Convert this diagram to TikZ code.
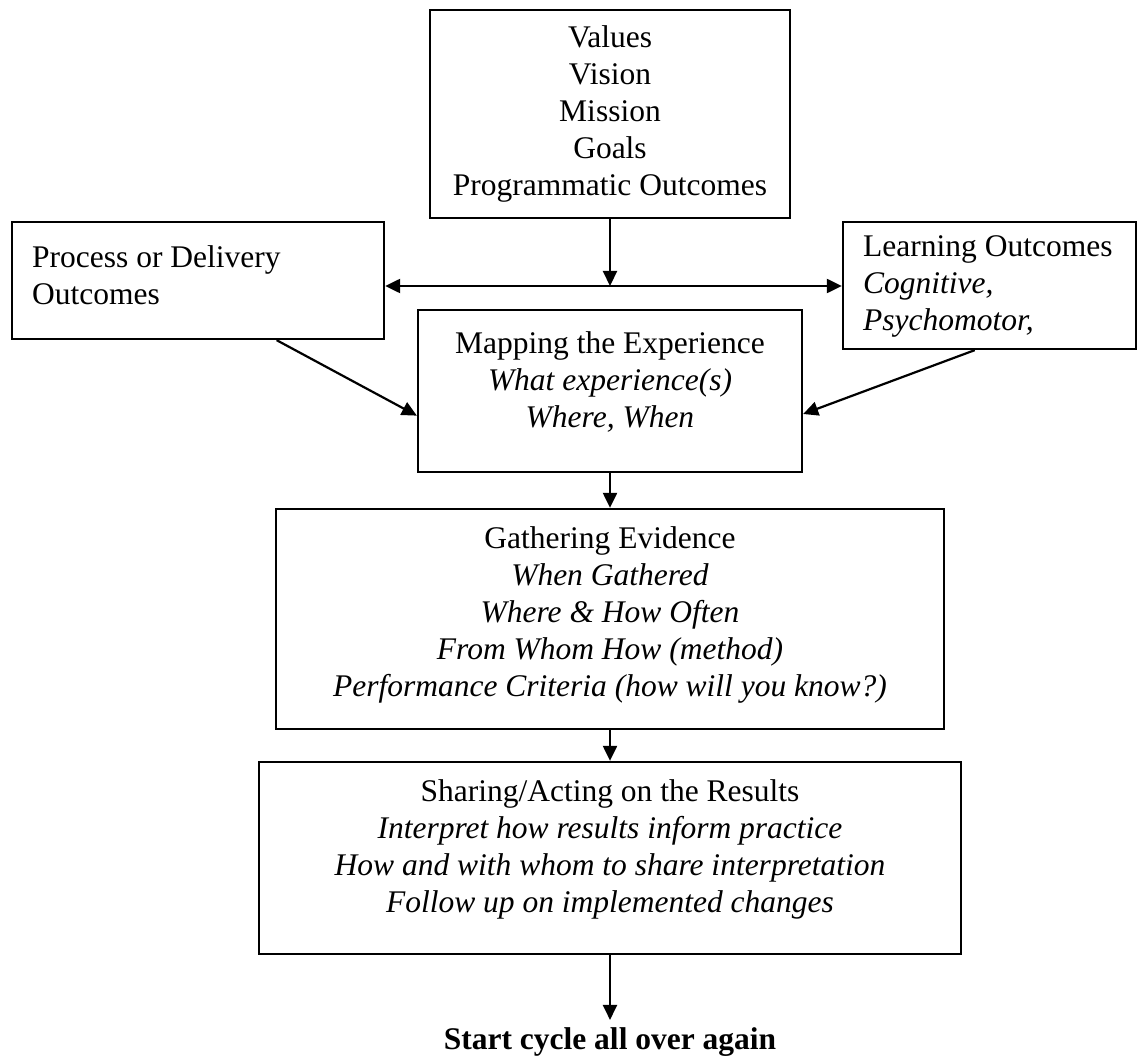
\documentclass[tikz,border=0pt]{standalone}
\usepackage{fontspec}
\setmainfont{Liberation Serif}
\usetikzlibrary{arrows.meta, calc}
\newcommand{\flowsize}{\fontsize{31.5}{37}\selectfont}
\tikzset{
    box/.style={draw, line width=2.3pt, inner sep=0pt},
    boxtext/.style={inner sep=0pt, font=\flowsize},
    flow/.style={-{Triangle[width=14pt, length=15pt]}, line width=2.2pt}
}

\begin{document}
\begin{tikzpicture}[x=1pt, y=-1pt]
        \useasboundingbox (0, 0) rectangle (1138, 1059);

        \node[box, minimum width=360, minimum height=208] (topBox) at (610, 114) {};
        \node[box, minimum width=372, minimum height=117] (procBox) at (198, 280.5) {};
        \node[box, minimum width=293, minimum height=127] (learnBox) at (989.5, 285.5) {};
        \node[box, minimum width=384, minimum height=162] (mapBox) at (610, 391) {};
        \node[box, minimum width=668, minimum height=220] (gatherBox) at (610, 619) {};
        \node[box, minimum width=702, minimum height=192] (shareBox) at (610, 858) {};

        \node[boxtext, align=center, anchor=center] (topText) at (topBox.center) {Values\\ Vision\\ Mission\\ Goals\\ Programmatic Outcomes};
        \node[boxtext, align=left, anchor=north west] (procText) at (32, 245.5) {Process or Delivery\\ Outcomes};
        \node[boxtext, align=left, anchor=north west] (learnText) at (863, 235.5) {Learning Outcomes\\ \textit{Cognitive,}\\ \textit{Psychomotor,}};
        \node[boxtext, align=center, anchor=north] (mapText) at (610, 331.5) {Mapping the Experience\\ \textit{What experience(s)}\\ \textit{Where, When}};
        \node[boxtext, align=center, anchor=north] (gatherText) at (610, 526.5) {Gathering Evidence\\ \textit{When Gathered}\\ \textit{Where \& How Often}\\ \textit{From Whom How (method)}\\ \textit{Performance Criteria (how will you know?)}};
        \node[boxtext, align=center, anchor=north] (shareText) at (610, 779.5) {Sharing/Acting on the Results\\ \textit{Interpret how results inform practice}\\ \textit{How and with whom to share interpretation}\\ \textit{Follow up on implemented changes}};

        \node[font=\flowsize\bfseries, inner sep=7pt, anchor=base] (restart) at (610, 1049) {Start cycle all over again};

        \coordinate (hub) at (610, 286);

        \draw[flow] (topBox.south) -- (hub);
        \draw[flow] (hub) -- (procBox.east |- hub);
        \draw[flow] (hub) -- (learnBox.west |- hub);

        \draw[flow] ($(procBox.south west)!0.71!(procBox.south east)$) -- ($(mapBox.north west)!0.65!(mapBox.south west)$);
        \draw[flow] ($(learnBox.south west)!0.45!(learnBox.south east)$) -- ($(mapBox.north east)!0.64!(mapBox.south east)$);

        \draw[flow] (mapBox.south) -- (gatherBox.north);
        \draw[flow] (gatherBox.south) -- (shareBox.north);
        \draw[flow] (shareBox.south) -- (restart.north);

    \end{tikzpicture}
\end{document}
